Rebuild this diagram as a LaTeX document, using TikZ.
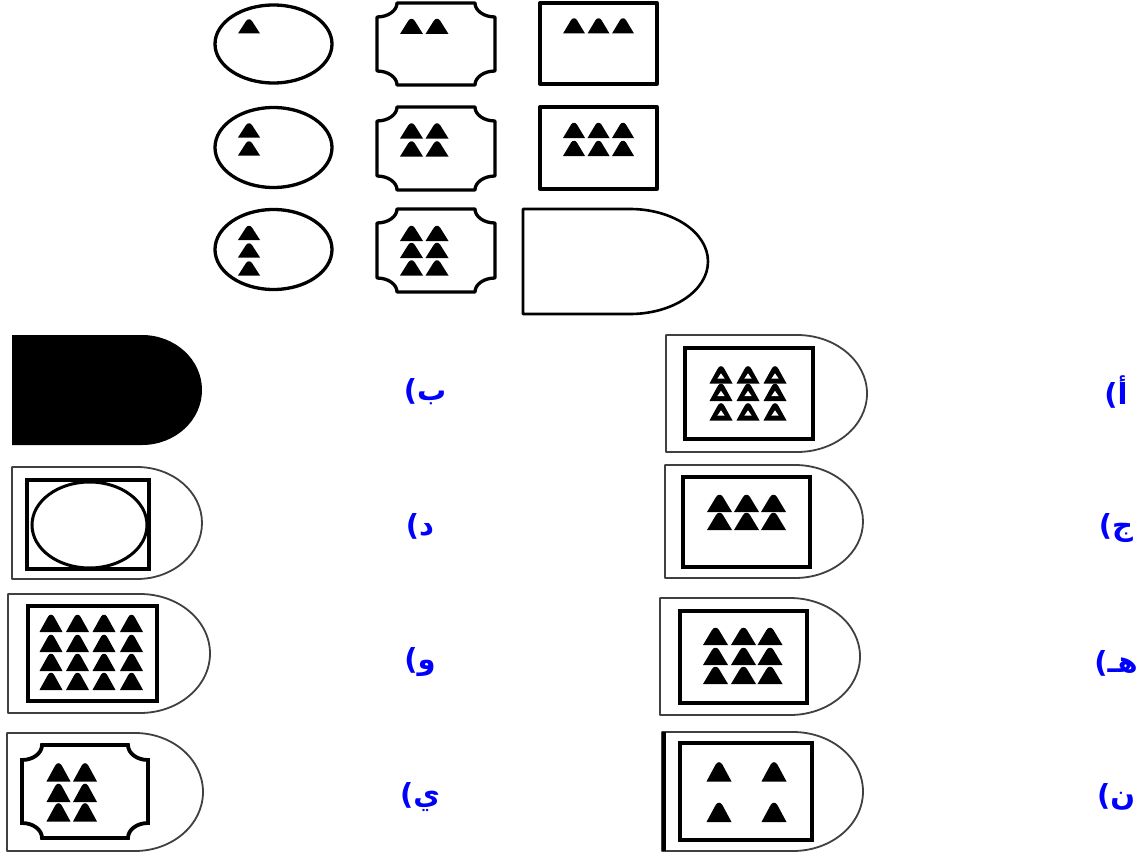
\documentclass[tikz,border=0pt]{standalone}
\usepackage{fontspec}
\TeXXeTstate=1
\newfontfamily\arabicfont[Script=Arabic]{DejaVu Sans}
\definecolor{lblue}{RGB}{0,0,255}
\newcommand\Tri[4]{\fill[line join=round] ({#1-#3/2},{#2+#4/2}) -- ({#1-#3*0.14},{#2-#4*0.38}) .. controls ({#1-#3*0.07},{#2-#4*0.56}) and ({#1+#3*0.07},{#2-#4*0.56}) .. ({#1+#3*0.14},{#2-#4*0.38}) -- ({#1+#3/2},{#2+#4/2}) -- cycle;}
\newcommand\HTri[4]{\Tri{#1}{#2}{#3}{#4}\fill[white] ({#1-#3*0.16},{#2+#4*0.22}) -- ({#1},{#2-#4*0.1}) -- ({#1+#3*0.16},{#2+#4*0.22}) -- cycle;}
\newcommand\Dshape[6][]{\draw[#1] (#2,#3) -- (#4,#3) arc[start angle=-90,end angle=90,x radius={#5-#4},y radius={(#6-#3)/2}] -- (#2,#6) -- cycle;}
\newcommand\Nbox[7][]{\draw[#1] ({#2+#6},#3) -- ({#4-#6},#3) arc[start angle=180,end angle=90,x radius=#6,y radius=#7] -- (#4,{#5-#7}) arc[start angle=270,end angle=180,x radius=#6,y radius=#7] -- ({#2+#6},#5) arc[start angle=0,end angle=-90,x radius=#6,y radius=#7] -- (#2,{#3+#7}) arc[start angle=90,end angle=0,x radius=#6,y radius=#7] -- cycle;}
\tikzset{
  gridline/.style={line width=3.3pt,draw=black,line join=round},
  optline/.style={line width=1.8pt,draw=black!75,line join=round},
  innerline/.style={line width=3.8pt,draw=black,line join=miter},
  lbl/.style={text=lblue,font=\arabicfont\bfseries\fontsize{29}{34}\selectfont,inner sep=0pt}
}
\begin{document}
\begin{tikzpicture}[x=1pt,y=-1pt]
\useasboundingbox[fill=white] (0,0) rectangle (1144,859);
% ---- top grid ----
\draw[gridline] (273.5,44) ellipse[x radius=58.5,y radius=39];
\draw[gridline] (273.5,147.5) ellipse[x radius=58.5,y radius=40];
\draw[gridline] (273.5,249.5) ellipse[x radius=58.5,y radius=40];
\Tri{249}{26.5}{22}{14}
\Tri{249}{130.5}{22}{14}\Tri{249}{148.5}{22}{14}
\Tri{249}{233}{22}{14}\Tri{249}{250.5}{22}{14}\Tri{249}{268.5}{22}{14}
\Nbox[gridline]{377}{3}{495}{85}{20}{14}
\Nbox[gridline]{377}{107}{495}{190}{20}{14}
\Nbox[gridline]{377}{209}{495}{292}{20}{14}
\foreach \x in {411.5,437} {\Tri{\x}{26.5}{23}{15}}
\foreach \x in {411.5,437} {\foreach \y in {131,149} {\Tri{\x}{\y}{23}{15}}}
\foreach \x in {411.5,437} {\foreach \y in {233.5,250.5,268} {\Tri{\x}{\y}{23}{15}}}
\draw[gridline] (540,3) rectangle (657,84);
\draw[gridline] (540,107) rectangle (657,189);
\foreach \x in {574,598.5,623} {\Tri{\x}{26}{22}{15}}
\foreach \x in {574,598.5,623} {\foreach \y in {130.5,148.5} {\Tri{\x}{\y}{22}{15}}}
\Dshape[gridline,line width=2.6pt]{523}{209}{630}{708}{314}
% ---- options left column ----
\fill (12,335) -- (142,335) arc[start angle=-90,end angle=90,x radius=60,y radius=55] -- (12,445) -- cycle;
\Dshape[optline]{12}{467}{137}{202}{579}
\draw[innerline,line width=3.2pt] (27,480) rectangle (149,569);
\draw[line width=3pt] (89.5,525) ellipse[x radius=57.5,y radius=43];
\Dshape[optline]{8}{594}{140}{210}{713}
\draw[innerline,line width=4.2pt] (28,606) rectangle (157,701);
\foreach \x in {51,77.5,104,131.5} {\foreach \y in {623.5,643.5,662.5,681.5} {\Tri{\x}{\y}{23}{17}}}
\Dshape[optline]{7}{733}{135}{203}{851}
\Nbox[innerline]{22}{745}{148}{838}{20}{15}
\foreach \x in {58.5,85} {\foreach \y in {772.5,793,812.5} {\Tri{\x}{\y}{24}{18}}}
% ---- options right column ----
\Dshape[optline]{666}{335}{797}{867}{452}
\draw[innerline] (685,348) rectangle (813,439);
\foreach \x in {721,748,775} {\foreach \y in {375,392.5,412} {\HTri{\x}{\y}{23}{17}}}
\Dshape[optline]{665}{465}{795}{863}{578}
\draw[innerline] (683,477) rectangle (810,567);
\foreach \x in {719.5,746.5,773.5} {\foreach \y in {503.5,521.5} {\Tri{\x}{\y}{25}{17}}}
\Dshape[optline]{660}{598}{790}{860}{715}
\draw[innerline] (680,611) rectangle (807,703);
\foreach \x in {715.5,743.5,770} {\foreach \y in {636.5,656.5,675.5} {\Tri{\x}{\y}{25}{17}}}
\Dshape[optline]{662}{732}{793}{863}{851}
\draw[line width=4pt] (663.5,732) -- (663.5,851);
\draw[innerline] (680,743) rectangle (812,840);
\foreach \x in {719,774} {\foreach \y in {772,812.5} {\Tri{\x}{\y}{25}{19}}}
% ---- labels ----
\node[lbl] (lb) at (425,392) {\beginR ب)\endR};
\node[lbl] (ld) at (420,526) {\beginR د)\endR};
\node[lbl] (lw) at (420,662) {\beginR و)\endR};
\node[lbl] (ly) at (420,797) {\beginR ي)\endR};
\node[lbl] (la) at (1116,392) {\beginR أ)\endR};
\node[lbl] (lj) at (1116,528) {\beginR ج)\endR};
\node[lbl] (lh) at (1116,663) {\beginR هـ)\endR};
\node[lbl] (ln) at (1116,797) {\beginR ن)\endR};
\end{tikzpicture}
\end{document}
